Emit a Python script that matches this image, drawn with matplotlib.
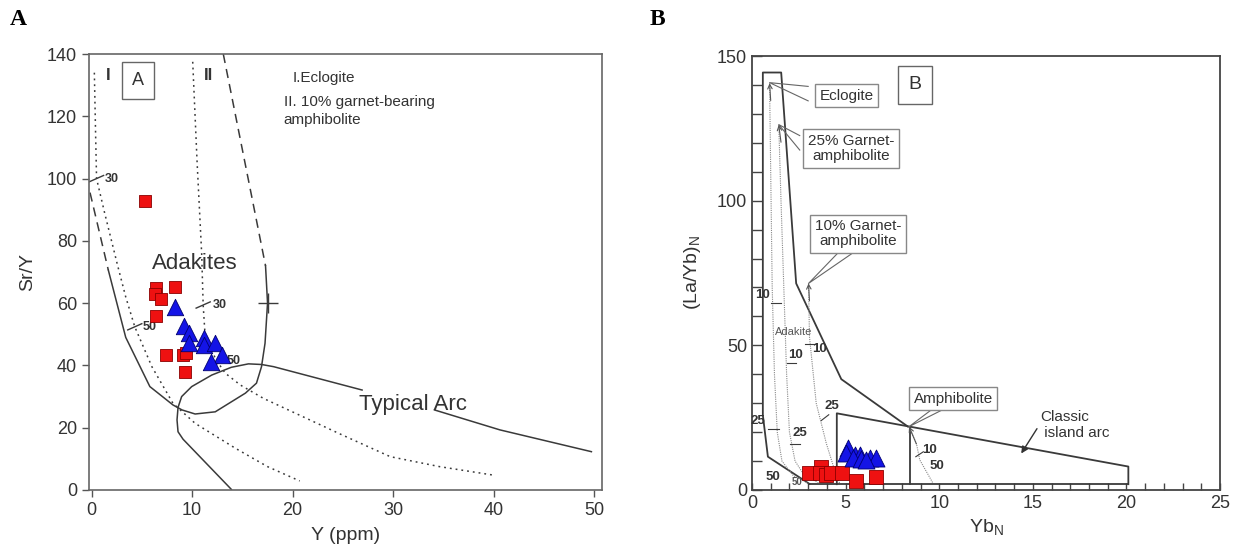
import matplotlib
matplotlib.use("Agg")
import matplotlib.pyplot as plt
import numpy as np

plt.rcParams['font.family'] = ['Liberation Sans', 'DejaVu Sans']

# ---------------- Panel A data ----------------
a_red_y = [5.3, 6.4, 8.3, 6.3, 6.9, 6.4, 7.4, 9.1, 9.4, 9.3]
a_red_sry = [92.8, 64.8, 65.1, 63.0, 61.3, 55.9, 43.4, 43.4, 44.0, 38.0]
a_blue_y = [8.3, 9.2, 9.7, 9.7, 11.2, 11.2, 12.3, 13.0, 11.9]
a_blue_sry = [58.9, 52.7, 50.5, 47.3, 48.7, 46.6, 47.1, 43.4, 41.2]

# field boundaries (Y ppm, Sr/Y)
a_adakite_dashed_left = [(-0.15, 95.5), (1.67, 70.6)]
a_adakite_dashed_right = [(13.1, 140), (17.3, 72)]
a_adakite_solid = [(1.67, 70.6), (3.4, 49.0), (5.8, 33.2), (8.1, 27.3), (9.0, 25.7),
                   (10.3, 24.4), (12.3, 25.1), (15.3, 31.1), (16.4, 34.3), (16.9, 39.6),
                   (17.25, 47.1), (17.5, 60.0), (17.3, 72)]
a_arc_upper = [(8.6, 26.5), (8.96, 30.0), (9.96, 33.2), (11.95, 36.9), (13.9, 39.4),
               (15.6, 40.5), (16.9, 40.3), (18.1, 39.6), (26.9, 32.1)]
a_arc_upper2 = [(34.1, 25.7), (40.6, 19.3), (49.7, 12.3)]
a_arc_lower = [(8.6, 26.5), (8.5, 22.5), (8.6, 18.7), (9.1, 16.3), (13.9, 0.2)]
a_curve_I = [(0.28, 134), (0.4, 115), (0.5, 100), (1.3, 89), (2.6, 72), (3.4, 62),
             (4.3, 52.4), (6.0, 39.6), (8.1, 27.8), (10.3, 21.4), (14.3, 13.4),
             (17.5, 7.5), (20.7, 2.9)]
a_curve_II = [(10.06, 137.5), (10.5, 105), (10.95, 76), (11.1, 59.4), (11.3, 49.2),
              (12.4, 41.7), (13.3, 37.5), (14.8, 33.7), (17.1, 29.4), (24.7, 18.0),
              (29.7, 10.7), (34.6, 7.5), (39.9, 4.8)]
a_xticks = [0, 10, 20, 30, 40, 50]
a_yticks = [0, 20, 40, 60, 80, 100, 120, 140]

# ---------------- Panel B data ----------------
b_red_yb = [3.07, 3.70, 3.65, 3.97, 4.24, 4.82, 5.57, 6.6]
b_red_layb = [6.0, 8.1, 5.8, 5.2, 5.8, 5.8, 3.2, 4.6]
b_blue_yb = [5.12, 5.0, 5.48, 5.75, 5.39, 5.84, 6.28, 6.6, 6.1]
b_blue_layb = [14.4, 12.7, 12.1, 12.1, 11.0, 10.6, 11.0, 11.0, 10.4]

b_adakite_field = [(3.07, 2.1), (0.85, 11.5), (0.58, 25.9), (0.58, 144.3), (1.56, 144.3),
                   (2.36, 71.4), (4.77, 38.3), (8.33, 21.9)]
b_arc_box = [(4.53, 2.0), (4.53, 26.5), (20.1, 8.1), (20.1, 2.0)]
b_baseline = [(3.07, 2.0), (20.1, 2.0)]
b_amph_vertical = [(8.42, 21.9), (8.42, 2.0)]
b_curve_ecl = [(0.94, 140.6), (1.0, 110), (1.08, 70), (1.2, 40), (1.35, 20), (1.6, 10),
               (2.2, 5), (3.0, 2.3)]
b_curve_25 = [(1.43, 126.2), (1.55, 100), (1.7, 70), (1.85, 40), (2.0, 20), (2.3, 10),
              (2.8, 5), (3.6, 2.3)]
b_curve_10 = [(3.02, 71.4), (3.07, 53), (3.43, 30), (3.97, 16.1), (4.41, 6.9), (4.68, 2.3)]
b_curve_amph = [(8.39, 21.9), (8.78, 16.1), (8.96, 10.4), (9.67, 2.3)]

LC = '#3a3a3a'
TC = '#333333'

fig = plt.figure(figsize=(12.45, 5.58), dpi=100)
axA = fig.add_axes([0.0715, 0.1219, 0.412, 0.7813])
axB = fig.add_axes([0.604, 0.1219, 0.376, 0.7777])


def xy(pts):
    a = np.array(pts, dtype=float)
    return a[:, 0], a[:, 1]


# ================= Panel A =================
ax = axA
ax.plot(*xy(a_adakite_dashed_left), color=LC, lw=1.1, ls=(0, (6, 4)))
ax.plot(*xy(a_adakite_dashed_right), color=LC, lw=1.1, ls=(0, (6, 4)))
ax.plot(*xy(a_adakite_solid), color=LC, lw=1.1)
ax.plot(*xy(a_arc_upper), color=LC, lw=1.1)
ax.plot(*xy(a_arc_upper2), color=LC, lw=1.1)
ax.plot(*xy(a_arc_lower), color=LC, lw=1.1)
ax.plot(*xy(a_curve_I), color=LC, lw=1.1, ls=(0, (1.2, 2.6)))
ax.plot(*xy(a_curve_II), color=LC, lw=1.1, ls=(0, (1.2, 2.6)))
ax.plot([17.5], [60], marker='+', ms=14, mew=1.0, color=LC)

# ticks on melting curves
for (tx, ty) in [(0.5, 100), (4.3, 52.4), (11.1, 59.4), (12.8, 41.0)]:
    ax.plot([tx - 0.7, tx + 0.7], [ty - 1.0, ty + 1.0], color=LC, lw=1.0)
ax.text(1.35, 100, '30', fontsize=9, fontweight='bold', color=TC, va='center')
ax.text(5.1, 52.4, '50', fontsize=9, fontweight='bold', color=TC, va='center')
ax.text(12.1, 59.4, '30', fontsize=9, fontweight='bold', color=TC, va='center')
ax.text(13.4, 41.5, '50', fontsize=9, fontweight='bold', color=TC, va='center')

ax.scatter(a_red_y, a_red_sry, marker='s', s=75, c='#ee1111', edgecolors='#8a0000',
           linewidths=0.6, zorder=5)
ax.scatter(a_blue_y, a_blue_sry, marker='^', s=140, c='#1414e6', edgecolors='#000070',
           linewidths=0.6, zorder=5)

ax.text(1.67, 133, 'I', fontsize=12, fontweight='bold', color=TC, ha='center', va='center')
ax.text(11.6, 133, 'II', fontsize=12, fontweight='bold', color=TC, ha='center', va='center')
ax.text(4.65, 131.5, 'A', fontsize=13, color=TC, ha='center', va='center',
        bbox=dict(boxstyle='square,pad=0.55', fc='white', ec='#666666', lw=1.0))
ax.text(20.0, 132.3, 'I.Eclogite', fontsize=11, color=TC, va='center')
ax.text(19.1, 124.7, 'II. 10% garnet-bearing', fontsize=11, color=TC, va='center')
ax.text(19.1, 118.8, 'amphibolite', fontsize=11, color=TC, va='center')
ax.text(10.3, 72.8, 'Adakites', fontsize=16, color=TC, ha='center', va='center')
ax.text(32.0, 27.5, 'Typical Arc', fontsize=16, color=TC, ha='center', va='center')

ax.set_xlim(-0.25, 50.75)
ax.set_ylim(0, 140)
ax.set_xticks(a_xticks)
ax.set_yticks(a_yticks)
ax.tick_params(direction='out', length=5, width=1, colors='#555555', labelsize=13,
               labelcolor=TC)
for s in ax.spines.values():
    s.set_color('#666666')
    s.set_linewidth(1.2)
ax.set_xlabel('Y (ppm)', fontsize=14, color=TC, labelpad=6)
ax.set_ylabel('Sr/Y', fontsize=14, color=TC, labelpad=8)

# ================= Panel B =================
ax = axB
ax.plot(*xy(b_adakite_field), color=LC, lw=1.3)
ax.plot(*xy(b_arc_box), color=LC, lw=1.3)
ax.plot(*xy(b_baseline), color=LC, lw=1.3)
ax.plot(*xy(b_amph_vertical), color=LC, lw=1.3)
for crv in [b_curve_ecl, b_curve_25, b_curve_10, b_curve_amph]:
    cx, cy = xy(crv)
    ax.plot(cx, cy, color='#888888', lw=0.8, ls=(0, (1, 1)))
    ax.annotate('', xy=(cx[0], cy[0]), xytext=(cx[1], cy[0] - 6),
                arrowprops=dict(arrowstyle='->', color='#555555', lw=0.8,
                                shrinkA=0, shrinkB=0, mutation_scale=8))

box_kw = dict(boxstyle='square,pad=0.3', fc='white', ec='#888888', lw=1.0)
ax.text(5.05, 136.3, 'Eclogite', fontsize=11, color=TC, ha='center', va='center', bbox=box_kw)
ax.plot([3.0, 0.94, 3.0], [139.5, 140.8, 134.5], color='#666666', lw=0.8)
ax.text(5.3, 118.0, '25% Garnet-\namphibolite', fontsize=11, color=TC, ha='center',
        va='center', bbox=box_kw, linespacing=1.1)
ax.plot([2.55, 1.43, 2.55], [122.5, 126.3, 117.5], color='#666666', lw=0.8)
ax.text(5.65, 88.6, '10% Garnet-\namphibolite', fontsize=11, color=TC, ha='center',
        va='center', bbox=box_kw, linespacing=1.1)
ax.plot([4.6, 3.02, 5.4], [82.0, 71.4, 82.0], color='#666666', lw=0.8)
ax.text(10.75, 31.5, 'Amphibolite', fontsize=11, color=TC, ha='center', va='center',
        bbox=box_kw)
ax.plot([9.6, 8.39, 10.2], [27.8, 21.9, 27.8], color='#666666', lw=0.8)
ax.text(8.7, 140, 'B', fontsize=14, color=TC, ha='center', va='center',
        bbox=dict(boxstyle='square,pad=0.55', fc='white', ec='#666666', lw=1.0))
ax.text(15.4, 22.5, 'Classic\n island arc', fontsize=11, color=TC, ha='left',
        va='center', linespacing=1.15)
ax.annotate('', xy=(14.3, 11.8), xytext=(15.3, 22.0),
            arrowprops=dict(arrowstyle='-|>', color='#333333', lw=1.0, mutation_scale=10))

small = dict(fontsize=9.5, fontweight='bold', color=TC, va='center')
ax.text(0.15, 67.4, '10', **small)
ax.plot([1.0, 1.55], [64.5, 64.5], color=LC, lw=0.8)
ax.text(1.95, 46.5, '10', **small)
ax.plot([1.85, 2.35], [44.0, 44.0], color=LC, lw=0.8)
ax.text(3.2, 48.7, '10', **small)
ax.plot([2.85, 3.35], [50.5, 50.5], color=LC, lw=0.8)
ax.text(3.85, 29.0, '25', **small)
ax.plot([3.7, 4.1], [24.0, 26.0], color=LC, lw=0.8)
ax.text(-0.1, 24.0, '25', **small)
ax.plot([0.85, 1.45], [21.0, 21.0], color=LC, lw=0.8)
ax.text(2.15, 19.8, '25', **small)
ax.plot([2.05, 2.55], [16.0, 16.0], color=LC, lw=0.8)
ax.text(0.75, 4.5, '50', **small)
ax.text(2.1, 2.8, '50', fontsize=7, fontweight='bold', color='#555555', va='center')
ax.text(9.1, 13.8, '10', **small)
ax.plot([8.75, 9.15], [11.5, 13.2], color=LC, lw=0.8)
ax.text(9.5, 8.4, '50', **small)
ax.text(2.2, 54.5, 'Adakite', fontsize=8, color='#555555', ha='center', va='center')

ax.scatter(b_red_yb, b_red_layb, marker='s', s=110, c='#ee1111', edgecolors='#8a0000',
           linewidths=0.6, zorder=5)
ax.scatter(b_blue_yb, b_blue_layb, marker='^', s=150, c='#1414e6', edgecolors='#000070',
           linewidths=0.6, zorder=5)

ax.set_xlim(0, 25)
ax.set_ylim(0, 150)
ax.set_xticks([0, 5, 10, 15, 20, 25])
ax.set_yticks([0, 50, 100, 150])
ax.set_xticks(np.arange(0, 26, 1), minor=True)
ax.set_yticks(np.arange(0, 151, 10), minor=True)
ax.tick_params(which='major', direction='in', length=7, width=1, colors='#444444',
               labelsize=13, labelcolor=TC)
ax.tick_params(which='minor', direction='in', length=5, width=1, colors='#444444')
ax.tick_params(axis='x', which='both', direction='in', length=5)
ax.tick_params(axis='y', which='both', length=7)
for s in ax.spines.values():
    s.set_color('#444444')
    s.set_linewidth(1.3)
ax.set_xlabel('Yb$_\\mathregular{N}$', fontsize=14, color=TC, labelpad=4)
ax.set_ylabel('(La/Yb)$_\\mathregular{N}$', fontsize=14, color=TC, labelpad=10)

fig.text(0.008, 0.965, 'A', fontsize=17, fontweight='bold', family='Liberation Serif',
         va='center', ha='left')
fig.text(0.522, 0.965, 'B', fontsize=17, fontweight='bold', family='Liberation Serif',
         va='center', ha='left')

fig.savefig('out.png', dpi=100)
